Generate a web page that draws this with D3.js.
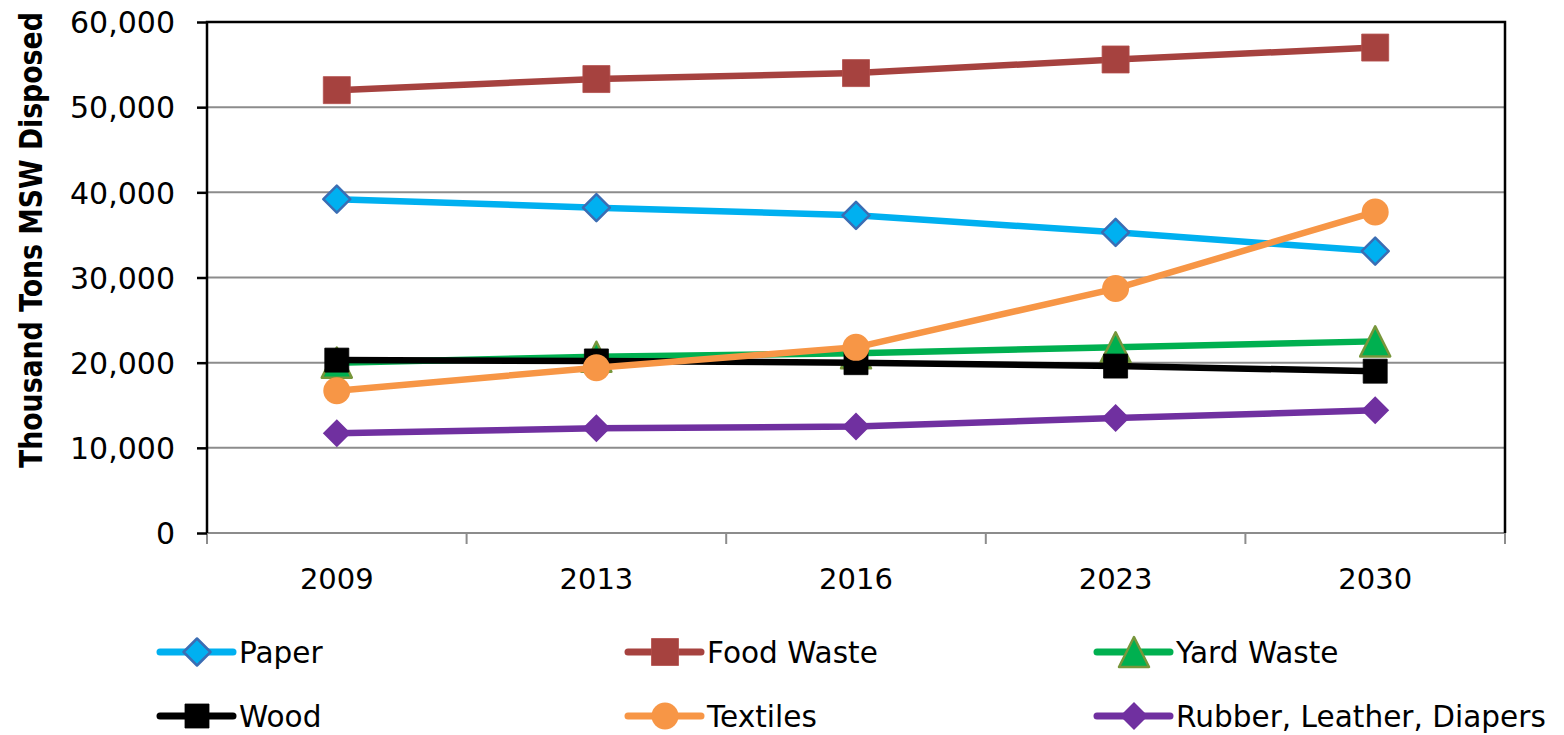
<!DOCTYPE html>
<html>
<head>
<meta charset="utf-8">
<script src="https://cdn.jsdelivr.net/npm/d3@7"></script>
<style>
  html, body { margin: 0; padding: 0; background: #fff; }
  svg { display: block; }
  text { font-family: "DejaVu Sans", sans-serif; fill: #000; }
</style>
</head>
<body>
<svg id="chart" width="1564" height="735"></svg>
<script>
// MSW disposed by material, thousand tons
const years = ["2009", "2013", "2016", "2023", "2030"];
const paper = [39200, 38200, 37300, 35300, 33100];
const foodWaste = [52000, 53300, 54000, 55600, 57000];
const yardWaste = [20000, 20700, 21100, 21800, 22500];
const wood = [20300, 20200, 20000, 19600, 19000];
const textiles = [16700, 19400, 21800, 28700, 37700];
const rubberLeatherDiapers = [11700, 12300, 12500, 13500, 14400];
const yTicks = [0, 10000, 20000, 30000, 40000, 50000, 60000];
const seriesNames = ["Paper", "Food Waste", "Yard Waste", "Wood", "Textiles", "Rubber, Leather, Diapers"];

const series = [
  { name: seriesNames[0], values: paper, line: "#00B0F0", fill: "#00B0F0", stroke: "#3B6DB3", shape: "diamond", size: 13.5, sw: 2.5 },
  { name: seriesNames[1], values: foodWaste, line: "#A6423F", fill: "#A6423F", stroke: "#B34E4B", shape: "square", size: 13.5, sw: 0.8 },
  { name: seriesNames[2], values: yardWaste, line: "#00B050", fill: "#00B050", stroke: "#77963B", shape: "triangle", size: 15, sw: 2.5 },
  { name: seriesNames[3], values: wood, line: "#000000", fill: "#000000", stroke: "#000000", shape: "square", size: 12, sw: 0.8 },
  { name: seriesNames[4], values: textiles, line: "#F79646", fill: "#F79646", stroke: "#F79646", shape: "circle", size: 13.5, sw: 0 },
  { name: seriesNames[5], values: rubberLeatherDiapers, line: "#7030A0", fill: "#7030A0", stroke: "#7030A0", shape: "diamond", size: 14, sw: 0 }
];

function markerPath(shape, s) {
  switch (shape) {
    case "diamond": return `M0,${-s}L${s},0L0,${s}L${-s},0Z`;
    case "square": return `M${-s},${-s}H${s}V${s}H${-s}Z`;
    case "triangle": return `M0,${-s}L${s},${s}L${-s},${s}Z`;
    case "circle": return d3.arc()({ innerRadius: 0, outerRadius: s, startAngle: 0, endAngle: 2 * Math.PI });
  }
}

const svg = d3.select("#chart");
const plot = { left: 207, right: 1505, top: 22, bottom: 533 };

const x = d3.scaleBand().domain(years).range([plot.left, plot.right]).padding(0);
const y = d3.scaleLinear().domain([0, 60000]).range([plot.bottom, plot.top]);

// horizontal gridlines
svg.append("g")
  .selectAll("line")
  .data(yTicks.filter(d => d > 0 && d < 60000))
  .join("line")
  .attr("x1", plot.left).attr("x2", plot.right)
  .attr("y1", d => y(d)).attr("y2", d => y(d))
  .attr("stroke", "#8C8C8C").attr("stroke-width", 2);

// x axis: ticks at category boundaries
const xAxis = svg.append("g").attr("transform", `translate(0,${plot.bottom})`);
const boundaries = years.map(d => x(d)).concat([x(years[years.length - 1]) + x.bandwidth()]);
xAxis.selectAll("line.tick")
  .data(boundaries)
  .join("line")
  .attr("class", "tick")
  .attr("x1", d => d).attr("x2", d => d)
  .attr("y1", 0).attr("y2", 11)
  .attr("stroke", "#8C8C8C").attr("stroke-width", 2);
xAxis.append("line")
  .attr("x1", plot.left).attr("x2", plot.right)
  .attr("y1", 0).attr("y2", 0)
  .attr("stroke", "#8C8C8C").attr("stroke-width", 2.2);
xAxis.selectAll("text")
  .data(years)
  .join("text")
  .attr("x", d => x(d) + x.bandwidth() / 2)
  .attr("y", 56)
  .attr("text-anchor", "middle")
  .attr("font-size", 29)
  .text(d => d);

// plot frame (top, right) and left value axis
svg.append("path")
  .attr("d", `M${plot.left},${plot.bottom}V${plot.top}H${plot.right}V${plot.bottom}`)
  .attr("fill", "none").attr("stroke", "#000").attr("stroke-width", 2.5);

const yAxis = svg.append("g").attr("transform", `translate(${plot.left},0)`);
yAxis.call(d3.axisLeft(y).tickValues(yTicks).tickFormat(d3.format(",")).tickSize(10).tickPadding(22));
yAxis.select(".domain").remove();
yAxis.selectAll(".tick line").attr("stroke", "#000").attr("stroke-width", 2.5);
yAxis.selectAll(".tick text")
  .attr("font-size", 30)
  .attr("font-family", "DejaVu Sans, sans-serif")
  .attr("fill", "#000")
  .attr("dy", "0.36em");

// axis title
const title = svg.append("text")
  .attr("font-weight", "bold")
  .attr("font-size", 32)
  .attr("text-anchor", "start")
  .text("Thousand Tons MSW Disposed");
{
  const len = title.node().getComputedTextLength();
  const k = 456 / len;
  title.attr("transform", `translate(42,468) rotate(-90) scale(${k},1)`);
}

// series lines and markers
const line = d3.line()
  .x((d, i) => x(years[i]) + x.bandwidth() / 2)
  .y(d => y(d));

series.forEach(s => {
  const g = svg.append("g");
  g.append("path")
    .attr("d", line(s.values))
    .attr("fill", "none")
    .attr("stroke", s.line)
    .attr("stroke-width", 6.5)
    .attr("stroke-linejoin", "round")
    .attr("stroke-linecap", "round");
  g.selectAll("path.marker")
    .data(s.values)
    .join("path")
    .attr("class", "marker")
    .attr("d", markerPath(s.shape, s.size))
    .attr("transform", (d, i) => `translate(${x(years[i]) + x.bandwidth() / 2},${y(d)})`)
    .attr("fill", s.fill)
    .attr("stroke", s.stroke)
    .attr("stroke-width", s.sw)
    .attr("stroke-linejoin", "round");
});

// legend
const legendCols = [160, 628, 1097];
const legendRows = [652, 716];
const legend = svg.append("g");
const items = legend.selectAll("g")
  .data(series)
  .join("g")
  .attr("transform", (d, i) => `translate(${legendCols[i % 3]},${legendRows[Math.floor(i / 3)]})`);
items.append("line")
  .attr("x1", 0).attr("x2", 73)
  .attr("y1", 0).attr("y2", 0)
  .attr("stroke", d => d.line)
  .attr("stroke-width", 7)
  .attr("stroke-linecap", "round");
items.append("path")
  .attr("d", d => markerPath(d.shape, d.size))
  .attr("transform", "translate(37,0)")
  .attr("fill", d => d.fill)
  .attr("stroke", d => d.stroke)
  .attr("stroke-width", d => d.sw)
  .attr("stroke-linejoin", "round");
const legendText = items.append("text")
  .attr("font-size", 31)
  .text(d => d.name);
{
  // condense legend labels so the longest one spans its column
  const longest = legendText.filter(d => d.name === seriesNames[5]).node().getComputedTextLength();
  const k = 370 / longest;
  legendText.attr("transform", `translate(79,11) scale(${k},1)`);
}
</script>
</body>
</html>
